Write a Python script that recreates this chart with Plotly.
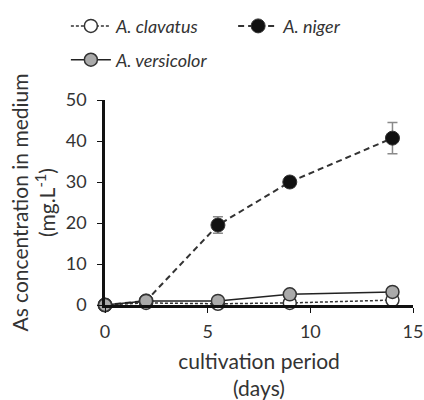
import plotly.graph_objects as go

days = [0, 2, 5.5, 9, 14]
clavatus = [0, 0.5, 0.3, 0.5, 1.2]
niger = [0, 1.0, 19.5, 30.0, 40.7]
niger_err = [0, 0.3, 2.0, 1.2, 3.8]
versicolor = [0, 1.0, 1.0, 2.6, 3.2]

x_ticks = [0, 5, 10, 15]
y_ticks = [0, 10, 20, 30, 40, 50]

FONT = "Lato"
TXT = "#333333"

fig = go.Figure()
fig.add_trace(go.Scatter(
    x=days, y=clavatus, name="<i>A. clavatus</i>", mode="lines+markers",
    line=dict(color="#333333", width=1.5, dash="3px,2px"),
    marker=dict(size=13, color="white", line=dict(color="#333333", width=1.5)),
    cliponaxis=False, legend="legend", showlegend=True))
fig.add_trace(go.Scatter(
    x=days, y=niger, name="<i>A. niger</i>", mode="lines+markers",
    line=dict(color="#333333", width=2, dash="6px,4px"),
    marker=dict(size=14, color="#111111", line=dict(color="#333333", width=1)),
    error_y=dict(type="data", array=niger_err, visible=True, color="#8a8a8a", thickness=1.5, width=5),
    cliponaxis=False, legend="legend2", showlegend=True))
fig.add_trace(go.Scatter(
    x=days, y=versicolor, name="<i>A. versicolor</i>", mode="lines+markers",
    line=dict(color="#222222", width=1.5),
    marker=dict(size=13, color="#aaaaaa", line=dict(color="#333333", width=1.5)),
    cliponaxis=False, legend="legend3", showlegend=True))

leg = dict(xanchor="left", yanchor="middle", itemwidth=40, visible=True,
           font=dict(family=FONT, size=18, color=TXT), bgcolor="rgba(0,0,0,0)")

fig.update_layout(
    width=424, height=400,
    margin=dict(l=105, r=11, t=100, b=95, autoexpand=False),
    showlegend=True,
    paper_bgcolor="white", plot_bgcolor="white",
    font=dict(family=FONT, size=17, color=TXT),
    legend=dict(x=-0.127, y=1.36, **leg),
    legend2=dict(x=0.416, y=1.36, **leg),
    legend3=dict(x=-0.127, y=1.195, **leg),
    xaxis=dict(range=[0, 15], tickvals=x_ticks, showgrid=False, zeroline=False,
               showline=True, linecolor="#111111", linewidth=2.5,
               ticks="outside", ticklen=5, tickcolor="#111111", tickwidth=1,
               ticklabelstandoff=4,
               tickfont=dict(size=18, color=TXT),
               title=dict(text="cultivation period<br>(days)", font=dict(size=21, color=TXT), standoff=25)),
    yaxis=dict(range=[0, 50], tickvals=y_ticks, showgrid=False, zeroline=False,
               showline=True, linecolor="#111111", linewidth=2.5,
               ticks="outside", ticklen=5, tickcolor="#111111", tickwidth=1,
               ticklabelstandoff=7,
               tickfont=dict(size=18, color=TXT),
               title=dict(text="As concentration in medium<br>(mg.L<sup>-1</sup>)", font=dict(size=21, color=TXT), standoff=5)),
)

fig.write_html("out.html", config={"displayModeBar": False},
               post_script="document.body.style.margin='0';document.body.style.overflow='hidden';")
